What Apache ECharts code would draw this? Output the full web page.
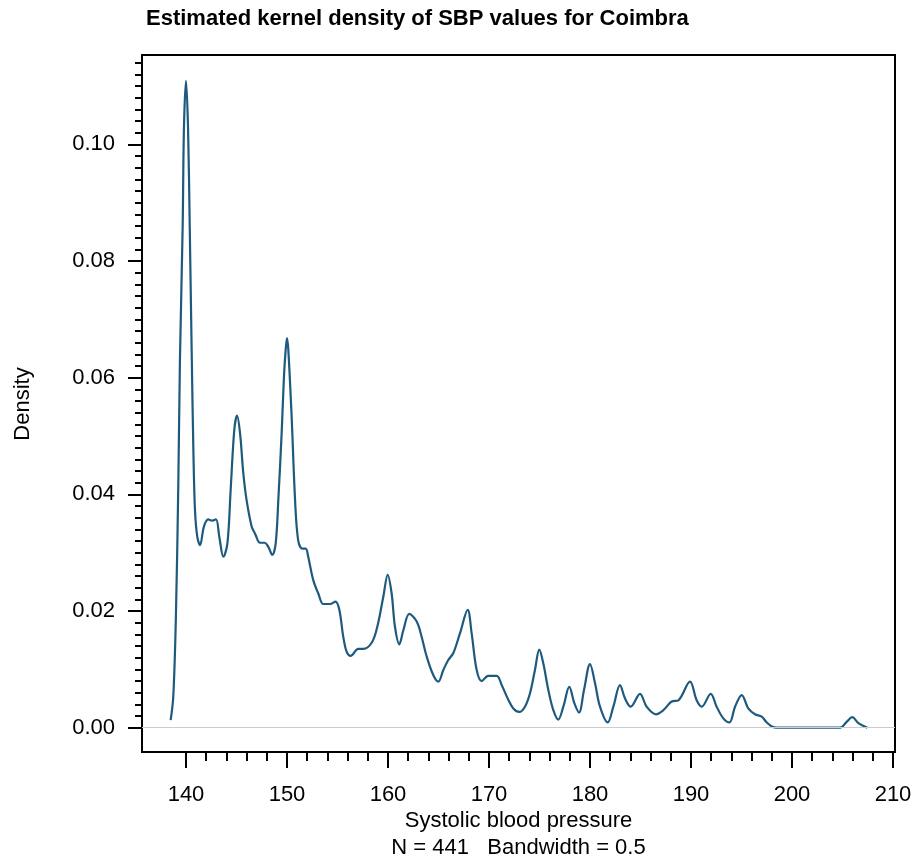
<!DOCTYPE html>
<html><head><meta charset="utf-8">
<script src="https://cdn.jsdelivr.net/npm/echarts@6/dist/echarts.min.js"></script>
<style>html,body{margin:0;padding:0;background:#fff}#c{width:916px;height:864px}</style>
</head><body><div id="c"></div>
<script>
// ---- data ----
const sbp = [
138.48,138.74,139.0,139.24,139.4,139.67,139.8,140.0,140.2,140.37,140.56,140.73,140.89,141.12,141.39,141.78,
142.2,142.6,142.97,143.3,143.7,144.1,144.42,144.78,145.05,145.35,145.67,146.0,146.5,146.83,147.33,147.8,
148.15,148.54,148.88,149.14,149.47,149.7,149.87,150.0,150.13,150.46,150.8,151.1,151.5,151.85,152.1,152.6,
153.1,153.6,154.26,154.8,155.18,155.57,155.91,156.3,157.06,157.55,158.4,158.94,159.54,159.97,160.36,160.69,
161.12,161.52,162.11,162.84,163.33,163.83,164.49,164.98,165.48,165.97,166.47,167.13,167.89,168.28,168.78,
169.27,169.93,170.76,171.26,171.91,172.41,173.0,173.56,174.06,174.55,174.98,175.38,175.87,176.37,176.86,
177.36,177.95,178.45,178.91,179.41,180.0,180.5,180.99,181.75,182.31,182.97,183.47,184.03,184.95,185.61,
186.53,187.26,188.09,188.75,189.9,190.56,191.06,191.95,192.54,193.2,193.8,194.36,195.02,195.67,196.34,
197.0,197.5,198.15,198.8,204.75,205.41,205.97,206.57,207.46
];
const density = [
0.0013,0.0053,0.019,0.0419,0.063,0.0859,0.103,0.1109,0.103,0.0859,0.0648,0.0476,0.0373,0.0327,0.0313,0.0345,
0.0357,0.0355,0.0357,0.0327,0.0293,0.0316,0.0407,0.051,0.0535,0.0505,0.0437,0.039,0.0345,0.0333,0.0317,0.0317,
0.031,0.0296,0.0316,0.039,0.0505,0.0602,0.0648,0.0668,0.0648,0.0533,0.039,0.0322,0.0307,0.0307,0.0293,0.0253,
0.023,0.0212,0.0212,0.0216,0.0202,0.0156,0.013,0.0123,0.0135,0.0135,0.0146,0.0173,0.0225,0.0262,0.023,0.0173,
0.0143,0.0167,0.0195,0.0182,0.0156,0.0122,0.009,0.0079,0.0099,0.0116,0.0128,0.0162,0.0202,0.0162,0.0099,
0.008,0.0089,0.0089,0.0073,0.0048,0.0033,0.0027,0.0036,0.0059,0.0099,0.0134,0.011,0.0065,0.003,0.0014,
0.0036,0.007,0.0042,0.0026,0.0065,0.0109,0.0076,0.0036,0.0009,0.0036,0.0073,0.005,0.0036,0.0058,0.0036,
0.0023,0.003,0.0045,0.0047,0.0079,0.0047,0.0036,0.0058,0.0036,0.0016,0.0009,0.0036,0.0056,0.0033,0.0023,
0.0019,0.0009,0.0001,0.0,0.0,0.001,0.0018,0.0008,0.0
];
const xMajorTicks = [140,150,160,170,180,190,200,210];
const xMinorTicks = [140,142,144,146,148,150,152,154,156,158,160,162,164,166,168,170,172,174,176,178,180,
  182,184,186,188,190,192,194,196,198,200,202,204,206,208,210];
const yMajorTicks = [0,0.02,0.04,0.06,0.08,0.10];
const yMinorTicks = [0.002,0.004,0.006,0.008,0.010,0.012,0.014,0.016,0.018,0.020,0.022,0.024,0.026,0.028,0.030,
  0.032,0.034,0.036,0.038,0.040,0.042,0.044,0.046,0.048,0.050,0.052,0.054,0.056,0.058,0.060,0.062,0.064,0.066,
  0.068,0.070,0.072,0.074,0.076,0.078,0.080,0.082,0.084,0.086,0.088,0.090,0.092,0.094,0.096,0.098,0.100,0.102,
  0.104,0.106,0.108,0.110,0.112,0.114];
const titleText = 'Estimated kernel density of SBP values for Coimbra';
const xTitle = 'Systolic blood pressure';
const xSubTitle = 'N = 441   Bandwidth = 0.5';
const yTitle = 'Density';

// ---- chart ----
const FONT = '"Liberation Sans", Arial, Helvetica, sans-serif';
const FS = 22;
const X_MIN = 135.644, X_MAX = 210.198, Y_MIN = -0.004165, Y_MAX = 0.11531;
const chart = echarts.init(document.getElementById('c'), null, {renderer: 'canvas'});
const pts = sbp.map((x, i) => [x, density[i]]);

const baseX = {type: 'value', min: X_MIN, max: X_MAX, position: 'bottom', splitLine: {show: false}};
const baseY = {type: 'value', min: Y_MIN, max: Y_MAX, position: 'left', splitLine: {show: false}};

chart.setOption({
  animation: false,
  backgroundColor: '#ffffff',
  grid: {left: 142, top: 55, width: 753, height: 697, show: true, borderColor: '#000', borderWidth: 2, backgroundColor: 'transparent'},
  xAxis: [
    Object.assign({}, baseX, {
      axisLine: {show: true, onZero: false, lineStyle: {color: '#000', width: 2}},
      axisTick: {show: true, customValues: xMajorTicks, length: 16, inside: false, lineStyle: {color: '#000', width: 2}},
      axisLabel: {show: true, customValues: xMajorTicks, margin: 32, fontSize: FS, fontFamily: FONT, color: '#000',
        formatter: v => String(Math.round(v))}
    }),
    Object.assign({}, baseX, {
      axisLine: {show: false, onZero: false},
      axisTick: {show: true, customValues: xMinorTicks, length: 9, inside: false, lineStyle: {color: '#000', width: 2}},
      axisLabel: {show: false}
    })
  ],
  yAxis: [
    Object.assign({}, baseY, {
      axisLine: {show: true, onZero: false, lineStyle: {color: '#000', width: 2}},
      axisTick: {show: true, customValues: yMajorTicks, length: 14, inside: false, lineStyle: {color: '#000', width: 2}},
      axisLabel: {show: true, customValues: yMajorTicks, margin: 27, fontSize: FS, fontFamily: FONT, color: '#000',
        formatter: v => v.toFixed(2)}
    }),
    Object.assign({}, baseY, {
      axisLine: {show: false, onZero: false},
      axisTick: {show: true, customValues: yMinorTicks, length: 7, inside: false, lineStyle: {color: '#000', width: 2}},
      axisLabel: {show: false}
    })
  ],
  series: [
    {
      type: 'line', name: 'zero', data: [], xAxisIndex: 0, yAxisIndex: 0, z: 1, silent: true,
      markLine: {silent: true, symbol: 'none', animation: false, label: {show: false},
        lineStyle: {color: '#cccccc', width: 1.2, type: 'solid'}, data: [{yAxis: 0}]}
    },
    {
      type: 'line', name: 'density', data: pts, xAxisIndex: 0, yAxisIndex: 0, z: 3,
      showSymbol: false, smooth: 0.35, clip: true,
      lineStyle: {color: '#1d5a7e', width: 2.2}
    }
  ],
  graphic: [
    {type: 'text', x: 146, y: 18.5, silent: true,
      style: {text: titleText, fontSize: FS, fontWeight: 'bold', fontFamily: FONT, fill: '#000', align: 'left', verticalAlign: 'middle'}},
    {type: 'text', x: 518.5, y: 820.5, silent: true,
      style: {text: xTitle, fontSize: FS, fontFamily: FONT, fill: '#000', align: 'center', verticalAlign: 'middle'}},
    {type: 'text', x: 518.5, y: 847.5, silent: true,
      style: {text: xSubTitle, fontSize: FS, fontFamily: FONT, fill: '#000', align: 'center', verticalAlign: 'middle'}},
    {type: 'text', x: 22.5, y: 404, rotation: Math.PI / 2, silent: true,
      style: {text: yTitle, fontSize: FS, fontFamily: FONT, fill: '#000', align: 'center', verticalAlign: 'middle'}}
  ]
});
</script>
</body></html>
